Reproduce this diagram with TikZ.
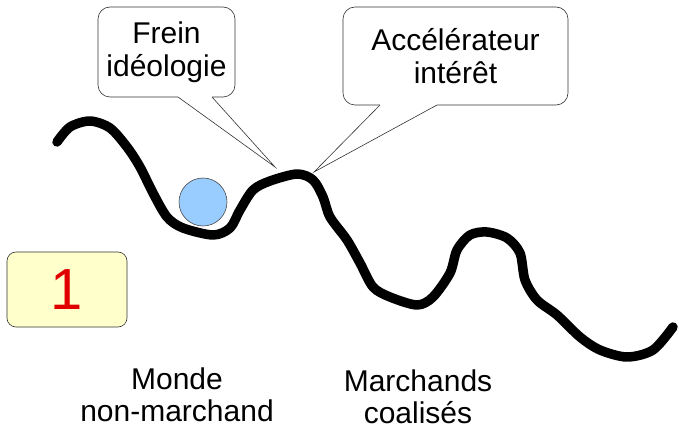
\documentclass[tikz,border=0pt]{standalone}
\usepackage{fontspec}
\setmainfont{Liberation Sans}
\definecolor{ballblue}{HTML}{99CCFF}
\definecolor{boxyellow}{HTML}{FFFFCC}
\definecolor{numred}{HTML}{E00000}
\begin{document}
\begin{tikzpicture}[x=1pt,y=-1pt,
  bubble/.style={draw=black!80, fill=white, rounded corners=12pt, line width=0.6pt, inner sep=0pt, align=center, font=\fontsize{30}{33}\selectfont},
  tailline/.style={draw=black!80, line width=0.6pt},
  label/.style={align=center, font=\fontsize{30}{32}\selectfont},
  road/.style={line width=9.5pt, line cap=round, line join=round},
  ball/.style={circle, draw=black!70, fill=ballblue, line width=0.6pt, minimum size=48pt, inner sep=0pt},
  numbox/.style={draw=black!80, fill=boxyellow, rounded corners=9pt, line width=0.6pt, minimum width=120pt, minimum height=75pt, inner sep=0pt, text=numred, font=\fontsize{58}{60}\selectfont}
]
\useasboundingbox (0,0) rectangle (679,430);
% road
\draw[road] plot[smooth, tension=0.5] coordinates {(57,142) (70,127) (90,121) (110,128) (127,147) (140,167) (153,193) (167,217) (183,228) (213,235) (230,228) (240,210) (253,190) (270,181) (297,174) (313,180) (323,197) (330,217) (347,240) (360,263) (373,287) (390,297) (417,305) (433,297) (450,273) (457,250) (470,235) (487,232) (507,238) (520,253) (525,280) (537,300) (557,315) (580,337) (600,350) (627,357) (653,350) (673,327)};
% ball
\node[ball] (ball) at (203,202) {};
% number box
\node[numbox] (num) at (67,289.5) {1};
% callout 1
\node[bubble, minimum width=137pt, minimum height=90pt] (b1) at (166.5,52) {Frein\\idéologie};
\coordinate (t1a) at (178,97);
\coordinate (t1b) at (212,97);
\coordinate (t1tip) at (275,167);
\fill[white] ([yshift=-1.2pt]t1a) -- (t1tip) -- ([yshift=-1.2pt]t1b) -- ([yshift=1.2pt]t1b) -- ([yshift=1.2pt]t1a) -- cycle;
\draw[tailline] (t1a) -- (t1tip) -- (t1b);
% callout 2
\node[bubble, minimum width=225pt, minimum height=98pt] (b2) at (455.5,56) {Accélérateur\\intérêt};
\coordinate (t2a) at (380,105);
\coordinate (t2b) at (437,105);
\coordinate (t2tip) at (314,172);
\fill[white] ([yshift=-1.2pt]t2a) -- (t2tip) -- ([yshift=-1.2pt]t2b) -- ([yshift=1.2pt]t2b) -- ([yshift=1.2pt]t2a) -- cycle;
\draw[tailline] (t2a) -- (t2tip) -- (t2b);
% labels
\node[label] (l1) at (177,395) {Monde\\non-marchand};
\node[label] (l2) at (418,397) {Marchands\\coalisés};
\end{tikzpicture}
\end{document}
